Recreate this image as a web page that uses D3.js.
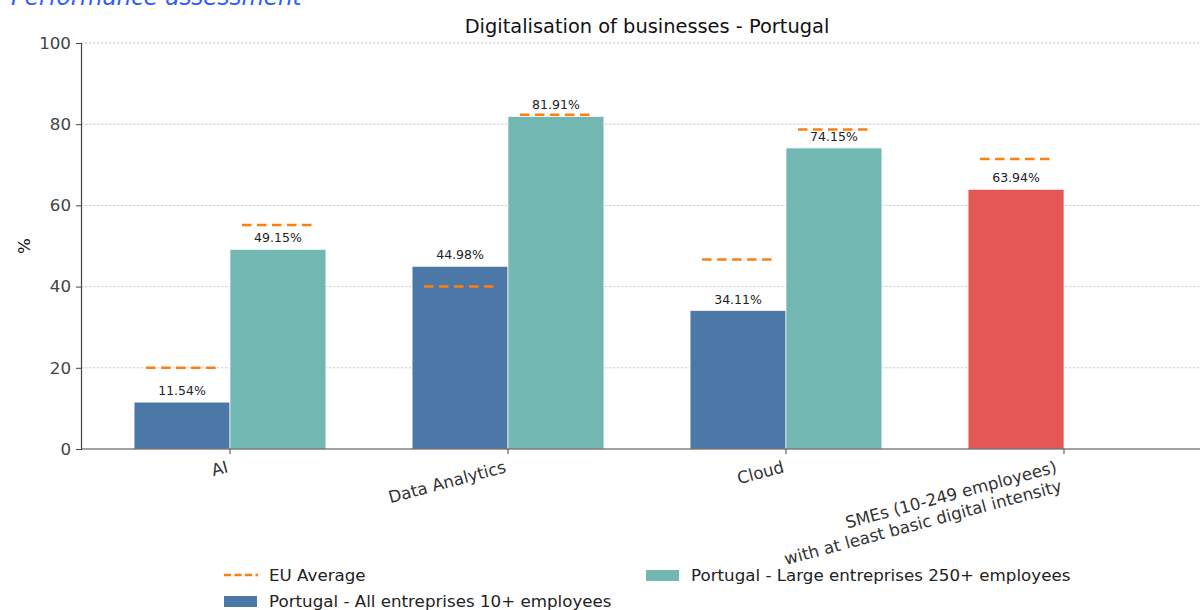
<!DOCTYPE html>
<html>
<head>
<meta charset="utf-8">
<script src="https://cdn.jsdelivr.net/npm/d3@7"></script>
<style>
  body { margin: 0; background: #fff; }
  svg text { font-family: "DejaVu Sans", sans-serif; }
</style>
</head>
<body>
<div id="chart"></div>
<script>
// data
var categories = ["AI", "Data Analytics", "Cloud", "SMEs (10-249 employees)\nwith at least basic digital intensity"];
var allEntreprises = [11.54, 44.98, 34.11, null];
var largeEntreprises = [49.15, 81.91, 74.15, null];
var smeBasic = [null, null, null, 63.94];
var euAll = [20.0, 40.0, 46.7, 71.4];
var euLarge = [55.2, 82.3, 78.7, null];
var yTicks = [0, 20, 40, 60, 80, 100];

var W = 1200, H = 610;

var svg = d3.select("#chart")
  .append("svg")
    .attr("width", W)
    .attr("height", H);

// x in category units, AI = 0
var x = d3.scaleLinear().domain([-0.536, 3.536]).range([81, 1213]);
var y = d3.scaleLinear().domain([0, 100]).range([449, 43]);
var barW = 0.345;

// grid
svg.append("g")
  .selectAll("line")
  .data(yTicks.slice(1))
  .enter().append("line")
    .attr("x1", x(-0.536)).attr("x2", W)
    .attr("y1", function(d) { return y(d); })
    .attr("y2", function(d) { return y(d); })
    .attr("stroke", "#a8a8a8")
    .attr("stroke-width", 0.6)
    .attr("stroke-dasharray", "2.5,1.5");

// bars
var bars = [];
categories.forEach(function(c, i) {
  if (allEntreprises[i] != null) bars.push({i: i, v: allEntreprises[i], off: -barW, color: "#4c78a8"});
  if (largeEntreprises[i] != null) bars.push({i: i, v: largeEntreprises[i], off: 0, color: "#72b7b2"});
  if (smeBasic[i] != null) bars.push({i: i, v: smeBasic[i], off: -barW, color: "#e45756"});
});

svg.selectAll(".bar")
  .data(bars)
  .enter().append("rect")
    .attr("class", "bar")
    .attr("x", function(d) { return x(d.i + d.off); })
    .attr("y", function(d) { return y(d.v); })
    .attr("width", x(barW) - x(0))
    .attr("height", function(d) { return y(0) - y(d.v); })
    .attr("fill", function(d) { return d.color; })
    .attr("stroke", "#fff")
    .attr("stroke-opacity", 0.7)
    .attr("stroke-width", 1);

svg.selectAll(".bartext")
  .data(bars)
  .enter().append("text")
    .attr("class", "bartext")
    .attr("text-anchor", "middle")
    .attr("x", function(d) { return x(d.i + d.off + barW / 2); })
    .attr("y", function(d) { return y(d.v) - 7; })
    .style("font-size", "12.5px")
    .attr("fill", "#222")
    .text(function(d) { return d.v.toFixed(2) + "%"; });

// EU average dashes
var eu = [];
categories.forEach(function(c, i) {
  if (euAll[i] != null) eu.push({i: i, v: euAll[i], off: -barW});
  if (euLarge[i] != null) eu.push({i: i, v: euLarge[i], off: 0});
});
var half = barW * 0.375;
svg.selectAll(".eu")
  .data(eu)
  .enter().append("line")
    .attr("class", "eu")
    .attr("x1", function(d) { return x(d.i + d.off + barW / 2 - half); })
    .attr("x2", function(d) { return x(d.i + d.off + barW / 2 + half); })
    .attr("y1", function(d) { return y(d.v); })
    .attr("y2", function(d) { return y(d.v); })
    .attr("stroke", "#ff7f0e")
    .attr("stroke-width", 2.5)
    .attr("stroke-dasharray", "9.5,5.5");

// y axis
var yAxis = svg.append("g")
  .attr("transform", "translate(81,0)")
  .call(d3.axisLeft(y).tickValues(yTicks).tickSize(5).tickPadding(5));
yAxis.select(".domain").attr("stroke", "#444").attr("stroke-width", 1.2);
yAxis.selectAll(".tick line").attr("stroke", "#444");
yAxis.selectAll(".tick text").style("font-size", "16.7px").attr("fill", "#444");

// x axis line and ticks
svg.append("line")
  .attr("x1", 81).attr("x2", W)
  .attr("y1", 449).attr("y2", 449)
  .attr("stroke", "#444").attr("stroke-width", 1.2);
svg.selectAll(".xtick")
  .data(categories)
  .enter().append("line")
    .attr("class", "xtick")
    .attr("x1", function(d, i) { return x(i); })
    .attr("x2", function(d, i) { return x(i); })
    .attr("y1", 449).attr("y2", 454)
    .attr("stroke", "#444");

var xl = svg.selectAll(".xlabel")
  .data(categories)
  .enter().append("text")
    .attr("class", "xlabel")
    .attr("text-anchor", "end")
    .attr("transform", function(d, i) {
      var lines = d.split("\n").length;
      var ax = x(i) - 1 - (lines - 1) * 5.2;
      return "translate(" + ax + ",472) rotate(-15)";
    })
    .style("font-size", "16.7px")
    .attr("fill", "#333");
xl.each(function(d) {
  var t = d3.select(this);
  d.split("\n").forEach(function(line, k) {
    t.append("tspan").attr("x", 0).attr("dy", k === 0 ? 0 : 19.6).text(line);
  });
});

// labels
svg.append("text")
  .attr("transform", "translate(30,246) rotate(-90)")
  .attr("text-anchor", "middle")
  .style("font-size", "16.7px")
  .attr("fill", "#111")
  .text("%");

svg.append("text")
  .attr("x", 647).attr("y", 33)
  .attr("text-anchor", "middle")
  .style("font-size", "19.4px")
  .attr("fill", "#111")
  .text("Digitalisation of businesses - Portugal");

svg.append("text")
  .attr("x", 11).attr("y", 5)
  .style("font-size", "23px")
  .style("font-style", "italic")
  .attr("fill", "#2a5cff")
  .text("Performance assessment");

// legend
var legend = svg.append("g");
legend.append("line")
  .attr("x1", 224).attr("x2", 258).attr("y1", 575).attr("y2", 575)
  .attr("stroke", "#ff7f0e").attr("stroke-width", 2.5)
  .attr("stroke-dasharray", "7,3.5");
legend.append("text").attr("x", 269).attr("y", 581)
  .style("font-size", "16.7px").attr("fill", "#222").text("EU Average");
legend.append("rect")
  .attr("x", 224).attr("y", 596).attr("width", 33).attr("height", 11)
  .attr("fill", "#4c78a8");
legend.append("text").attr("x", 269).attr("y", 607)
  .style("font-size", "16.7px").attr("fill", "#222").text("Portugal - All entreprises 10+ employees");
legend.append("rect")
  .attr("x", 646).attr("y", 570).attr("width", 33).attr("height", 11)
  .attr("fill", "#72b7b2");
legend.append("text").attr("x", 691).attr("y", 581)
  .style("font-size", "16.7px").attr("fill", "#222").text("Portugal - Large entreprises 250+ employees");
</script>
</body>
</html>
